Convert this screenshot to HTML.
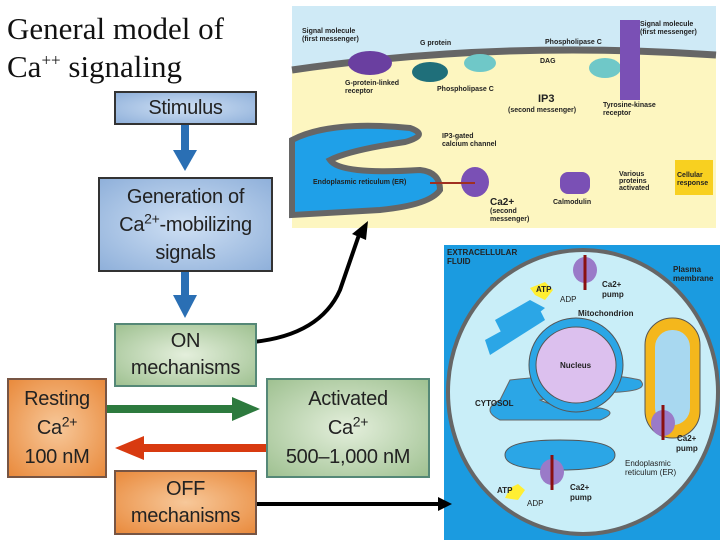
<!DOCTYPE html>
<html><head><style>
html,body{margin:0;padding:0;background:#fff;}
body{width:720px;height:540px;position:relative;overflow:hidden;font-family:"Liberation Sans",sans-serif;}
.t{position:absolute;left:7px;font-family:"Liberation Serif",serif;font-size:31px;color:#111;line-height:34px;}
.b{position:absolute;box-sizing:border-box;border:2px solid #333;text-align:center;color:#222;font-size:20px;line-height:25px;display:flex;flex-direction:column;justify-content:center;letter-spacing:-0.3px;}
.blue{background:radial-gradient(ellipse at center,#cfe0f4,#8fb0da);}
.green{background:radial-gradient(ellipse at center,#e4efdc,#9fc191);border-color:#587;}
.orange{background:radial-gradient(ellipse at center,#f7c89a,#e98a3c);border-color:#754;}
sup{font-size:14px;line-height:0;vertical-align:super;}
.t sup{font-size:17px;}
</style></head><body>
<div class="t" style="top:12px">General model of</div>
<div class="t" style="top:50px">Ca<sup>++</sup> signaling</div>

<svg width="720" height="540" style="position:absolute;left:0;top:0">
 <rect x="292" y="6" width="424" height="222" fill="#fdf6c0"/>
 <path d="M292 6 H716 V55 Q500 40 292 70 Z" fill="#cfeaf6"/>
 <path d="M292 70 Q500 40 716 55" stroke="#666" stroke-width="7" fill="none"/>
 <path d="M292 140 Q330 120 410 128 Q430 135 405 142 Q350 150 330 160 Q340 175 420 170 Q440 172 440 190 Q430 205 380 210 L292 215 Z" fill="#1fa0e8" stroke="#666" stroke-width="6"/>
 <rect x="675" y="160" width="38" height="35" fill="#f8d020"/>
 <ellipse cx="370" cy="63" rx="22" ry="12" fill="#6a3fa0"/>
 <ellipse cx="430" cy="72" rx="18" ry="10" fill="#1f6f7a"/>
 <ellipse cx="480" cy="63" rx="16" ry="9" fill="#6fc8c8"/>
 <ellipse cx="605" cy="68" rx="16" ry="10" fill="#6fc8c8"/>
 <rect x="620" y="20" width="20" height="80" fill="#7a50b5"/>
 <ellipse cx="475" cy="182" rx="14" ry="15" fill="#7a50b5"/>
 <rect x="560" y="172" width="30" height="22" rx="8" fill="#7a50b5"/>
 <g font-size="7" fill="#222" font-weight="bold">
  <text x="302" y="33">Signal molecule</text><text x="302" y="41">(first messenger)</text>
  <text x="420" y="45">G protein</text>
  <text x="545" y="44">Phospholipase C</text>
  <text x="640" y="26">Signal molecule</text><text x="640" y="34">(first messenger)</text>
  <text x="345" y="85">G-protein-linked</text><text x="345" y="93">receptor</text>
  <text x="437" y="91">Phospholipase C</text>
  <text x="540" y="63">DAG</text>
  <text x="538" y="102" font-size="11">IP3</text>
  <text x="508" y="112">(second messenger)</text>
  <text x="603" y="107">Tyrosine-kinase</text><text x="603" y="115">receptor</text>
  <text x="442" y="138">IP3-gated</text><text x="442" y="146">calcium channel</text>
  <text x="313" y="184">Endoplasmic reticulum (ER)</text>
  <text x="490" y="205" font-size="10">Ca2+</text>
  <text x="490" y="213">(second</text><text x="490" y="221">messenger)</text>
  <text x="553" y="204">Calmodulin</text>
  <text x="619" y="176">Various</text><text x="619" y="183">proteins</text><text x="619" y="190">activated</text>
  <text x="677" y="177">Cellular</text><text x="677" y="185">response</text>
 </g>
 <path d="M430 183 H475" stroke="#a03020" stroke-width="2"/>
 <rect x="444" y="245" width="276" height="295" fill="#1b9be0"/>
 <ellipse cx="583" cy="392" rx="135" ry="142" fill="#c9eef8" stroke="#666" stroke-width="4"/>
 <path d="M510 380 Q600 370 640 380 Q650 390 620 392 Q560 395 540 400 Q560 410 600 408 Q620 412 600 420 L500 420 Q480 410 500 400 Z" fill="#2ba6e6" stroke="#666" stroke-width="1"/>
 <path d="M495 320 L530 300 L545 308 L505 340 Z M485 340 L540 310 L545 320 L490 355 Z" fill="#2ba6e6"/>
 <path d="M505 455 Q505 440 560 440 Q615 440 615 455 Q615 470 560 470 Q505 470 505 455 Z" fill="#2ba6e6" stroke="#555" stroke-width="1"/>
 <circle cx="576" cy="365" r="47" fill="#2ba6e6" stroke="#555" stroke-width="1"/>
 <ellipse cx="576" cy="365" rx="40" ry="38" fill="#dcc0ee" stroke="#555" stroke-width="1"/>
 <rect x="645" y="318" width="55" height="120" rx="27" fill="#f4b71c" stroke="#555"/>
 <rect x="655" y="330" width="35" height="95" rx="17" fill="#a8d8f0"/>
 <ellipse cx="585" cy="270" rx="12" ry="13" fill="#9a7ac8"/>
 <ellipse cx="663" cy="423" rx="12" ry="13" fill="#9a7ac8"/>
 <ellipse cx="552" cy="472" rx="12" ry="13" fill="#9a7ac8"/>
 <path d="M585 290 V255 M663 440 V405 M552 490 V455" stroke="#8a1010" stroke-width="3"/>
 <polygon points="545,282 553,290 545,300 535,295 530,288" fill="#ffee33"/>
 <polygon points="510,488 518,484 525,490 518,500 505,498" fill="#ffee33"/>
 <g font-size="8" font-weight="bold" fill="#222">
  <text x="447" y="255">EXTRACELLULAR</text><text x="447" y="264">FLUID</text>
  <text x="536" y="292">ATP</text><text x="560" y="302" font-weight="normal">ADP</text>
  <text x="602" y="287">Ca2+</text><text x="602" y="297">pump</text>
  <text x="673" y="272">Plasma</text><text x="673" y="281">membrane</text>
  <text x="578" y="316">Mitochondrion</text>
  <text x="560" y="368">Nucleus</text>
  <text x="475" y="406">CYTOSOL</text>
  <text x="677" y="441">Ca2+</text><text x="676" y="451">pump</text>
  <text x="625" y="466" font-weight="normal">Endoplasmic</text><text x="625" y="475" font-weight="normal">reticulum (ER)</text>
  <text x="497" y="493">ATP</text><text x="527" y="506" font-weight="normal">ADP</text>
  <text x="570" y="490">Ca2+</text><text x="570" y="500">pump</text>
 </g>
 <rect x="181" y="125" width="8" height="28" fill="#2a6fb4"/>
 <polygon points="173,150 197,150 185,171" fill="#2a6fb4"/>
 <rect x="181" y="272" width="8" height="26" fill="#2a6fb4"/>
 <polygon points="173,295 197,295 185,318" fill="#2a6fb4"/>
 <rect x="106" y="405" width="130" height="8" fill="#2d7a3e"/>
 <polygon points="232,397 232,421 260,409" fill="#2d7a3e"/>
 <rect x="140" y="444" width="128" height="8" fill="#d83a10"/>
 <polygon points="144,436 144,460 115,448" fill="#d83a10"/>
 <path d="M253 342 Q320 335 340 290 Q352 255 360 232" stroke="#000" stroke-width="4" fill="none"/>
 <polygon points="352,234 368,221 366,240" fill="#000"/>
 <path d="M253 504 H440" stroke="#000" stroke-width="4"/>
 <polygon points="438,497 452,504 438,511" fill="#000"/>
</svg>

<div class="b blue" style="left:114px;top:91px;width:143px;height:34px;"><div>Stimulus</div></div>
<div class="b blue" style="left:98px;top:177px;width:175px;height:95px;line-height:28px;"><div>Generation of<br>Ca<sup>2+</sup>-mobilizing<br>signals</div></div>
<div class="b green" style="left:114px;top:323px;width:143px;height:64px;line-height:27px;"><div>ON<br>mechanisms</div></div>
<div class="b orange" style="left:7px;top:378px;width:100px;height:100px;line-height:29px;"><div>Resting<br>Ca<sup>2+</sup><br>100 nM</div></div>
<div class="b green" style="left:266px;top:378px;width:164px;height:100px;line-height:29px;"><div>Activated<br>Ca<sup>2+</sup><br>500–1,000 nM</div></div>
<div class="b orange" style="left:114px;top:470px;width:143px;height:65px;line-height:27px;"><div>OFF<br>mechanisms</div></div>
</body></html>
